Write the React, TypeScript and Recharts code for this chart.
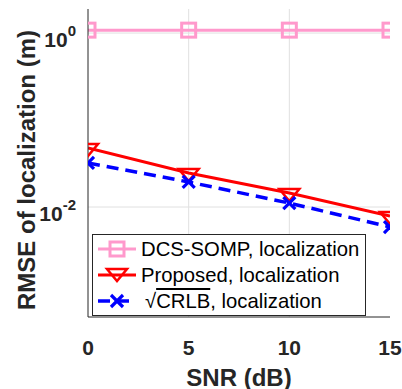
import { LineChart, Line, XAxis, YAxis, CartesianGrid, Legend } from 'recharts';

// SNR points (dB) and RMSE values
const snr = [0, 5, 10, 15];
const dcsSomp = [1.08, 1.08, 1.08, 1.08];
const proposed = [0.0477, 0.0246, 0.0145, 0.00788];
const crlb = [0.0321, 0.0194, 0.0111, 0.00589];

const xTicks = [0, 5, 10, 15];
const yTicks = [0.01, 1];
const yExponents = ['-2', '0'];

const rows = snr.map((s, i) => ({
  snr: s,
  dcs: dcsSomp[i],
  proposed: proposed[i],
  crlb: crlb[i],
}));

const PINK = '#FF99CC';
const RED = '#FF0000';
const BLUE = '#0000FF';
const AXIS = '#262626';
const FONT = '"Liberation Sans", Arial, Helvetica, sans-serif';

function SquareDot({ cx, cy }: any) {
  if (cx == null || cy == null) return null;
  return <rect x={cx - 7} y={cy - 7} width={14} height={14} fill="none" stroke={PINK} strokeWidth={3} />;
}

function TriangleDot({ cx, cy }: any) {
  if (cx == null || cy == null) return null;
  return (
    <polygon
      points={`${cx - 10},${cy - 4} ${cx + 10},${cy - 4} ${cx},${cy + 8}`}
      fill="none"
      stroke={RED}
      strokeWidth={2.5}
      strokeLinejoin="miter"
    />
  );
}

function CrossDot({ cx, cy }: any) {
  if (cx == null || cy == null) return null;
  return (
    <g stroke={BLUE} strokeWidth={3.2}>
      <line x1={cx - 6} y1={cy - 6} x2={cx + 6} y2={cy + 6} />
      <line x1={cx - 6} y1={cy + 6} x2={cx + 6} y2={cy - 6} />
    </g>
  );
}

function XTick({ x, y, payload }: any) {
  return (
    <text x={x} y={y + 28} textAnchor="middle" dominantBaseline="central" fontFamily={FONT} fontWeight="bold" fontSize={21} fill={AXIS}>
      {payload.value}
    </text>
  );
}

function YTick({ x, y, payload }: any) {
  const idx = yTicks.indexOf(payload.value);
  const exp = yExponents[idx];
  return (
    <text x={x - 10} y={y + 14} textAnchor="end" fontFamily={FONT} fontWeight="bold" fontSize={21} fill={AXIS}>
      10
      <tspan dy={-11} fontSize={15}>{exp}</tspan>
    </text>
  );
}

const legendItems = [
  { key: 'dcs', color: PINK, label: 'DCS-SOMP, localization' },
  { key: 'proposed', color: RED, label: 'Proposed, localization' },
  { key: 'crlb', color: BLUE, label: 'CRLB' },
];

function LegendBox() {
  return (
    <div
      style={{
        width: 274,
        height: 82,
        border: `1px solid ${AXIS}`,
        background: '#fff',
        fontFamily: FONT,
        fontSize: 20.3,
        color: '#000',
        boxSizing: 'border-box',
        paddingTop: 1,
      }}
    >
      {legendItems.map((item) => (
        <div key={item.key} style={{ display: 'flex', alignItems: 'center', height: 26 }}>
          <svg width={48} height={26} style={{ flex: 'none' }}>
            {item.key === 'dcs' && (
              <>
                <line x1={5} y1={13} x2={43} y2={13} stroke={PINK} strokeWidth={3} />
                <SquareDot cx={24} cy={13} />
              </>
            )}
            {item.key === 'proposed' && (
              <>
                <line x1={5} y1={13} x2={43} y2={13} stroke={RED} strokeWidth={3} />
                <TriangleDot cx={24} cy={11} />
              </>
            )}
            {item.key === 'crlb' && (
              <>
                <line x1={5} y1={13} x2={43} y2={13} stroke={BLUE} strokeWidth={3.5} strokeDasharray="12 7" />
                <CrossDot cx={24} cy={13} />
              </>
            )}
          </svg>
          {item.key === 'crlb' ? (
            <span style={{ whiteSpace: 'nowrap', marginLeft: 4 }}>
              √<span style={{ textDecoration: 'overline' }}>CRLB</span>, localization
            </span>
          ) : (
            <span style={{ whiteSpace: 'nowrap' }}>{item.label}</span>
          )}
        </div>
      ))}
    </div>
  );
}

export default function App() {
  return (
    <div style={{ position: 'absolute', left: 0, top: 0, background: '#fff' }}>
      <LineChart width={402} height={389} data={rows} margin={{ top: 9, right: 12, left: 0, bottom: 0 }}>
        <CartesianGrid stroke="#E0E0E0" strokeWidth={1} horizontalValues={yTicks} verticalValues={[5, 10]} />
        <XAxis
          dataKey="snr"
          type="number"
          domain={[0, 15]}
          ticks={xTicks}
          allowDataOverflow
          height={72}
          stroke={AXIS}
          tickLine={false}
          tickSize={0}
          tick={<XTick />}
          label={{
            content: () => (
              <text x={239} y={377} textAnchor="middle" dominantBaseline="central" fontFamily={FONT} fontWeight="bold" fontSize={24} fill={AXIS}>
                SNR (dB)
              </text>
            ),
          }}
        />
        <XAxis xAxisId="top" orientation="top" dataKey="snr" type="number" domain={[0, 15]} height={0} tick={false} tickLine={false} stroke={AXIS} />
        <YAxis
          scale="log"
          domain={[5.44e-4, 1.89]}
          ticks={yTicks}
          allowDataOverflow
          width={88}
          stroke={AXIS}
          tickLine={false}
          tickSize={0}
          tick={<YTick />}
          label={{
            content: () => (
              <text
                x={26}
                y={170}
                transform="rotate(-90 26 170)"
                textAnchor="middle"
                dominantBaseline="central"
                fontFamily={FONT}
                fontWeight="bold"
                fontSize={24}
                fill={AXIS}
              >
                RMSE of localization (m)
              </text>
            ),
          }}
        />
        <YAxis yAxisId="right" orientation="right" scale="log" domain={[5.44e-4, 1.89]} width={0} tick={false} tickLine={false} stroke={AXIS} />
        <Line dataKey="dcs" stroke={PINK} strokeWidth={3} dot={<SquareDot />} isAnimationActive={false} />
        <Line dataKey="proposed" stroke={RED} strokeWidth={3} dot={<TriangleDot />} isAnimationActive={false} />
        <Line dataKey="crlb" stroke={BLUE} strokeWidth={3.5} strokeDasharray="12 7" dot={<CrossDot />} isAnimationActive={false} />
        <Legend
          layout="vertical"
          align="center"
          verticalAlign="middle"
          content={() => <LegendBox />}
          wrapperStyle={{ position: 'absolute', left: 92, top: 234, width: 274, height: 82 }}
        />
      </LineChart>
    </div>
  );
}
